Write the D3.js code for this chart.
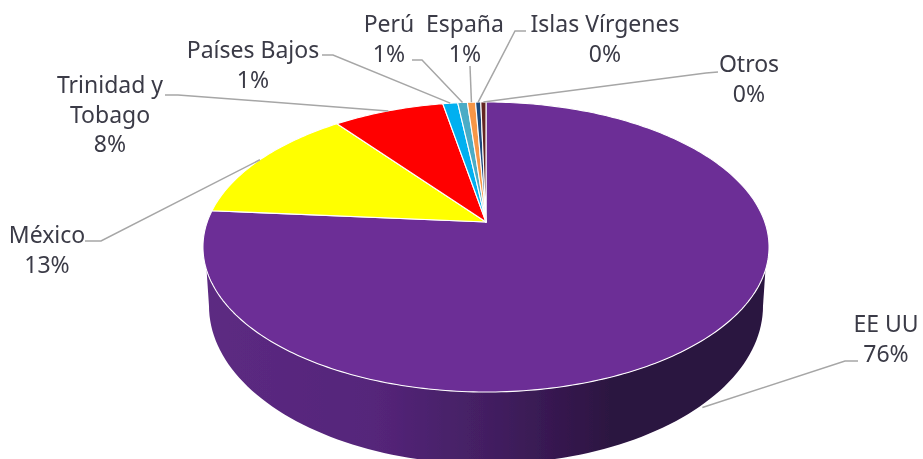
<!DOCTYPE html>
<html><head><meta charset="utf-8">
<script src="https://cdn.jsdelivr.net/npm/d3@7"></script>
<style>html,body{margin:0;padding:0;background:#fff}svg{display:block}text{font-family:"Noto Sans",sans-serif;font-size:23px;fill:#3a3a46;text-anchor:middle}</style>
</head><body><svg id="c" width="923" height="459"></svg>
<script>
const categories = ["EE UU","México","Trinidad y Tobago","Países Bajos","Perú","España","Islas Vírgenes","Otros"];
const values = [76.3,13.3,7.5,1.0,0.65,0.55,0.35,0.35];
const colors = ["#6c2d96","#ffff00","#ff0000","#00b0f0","#4bacc6","#f79646","#1f497d","#632523"];
const labelLines = [["EE UU"],["México"],["Trinidad y","Tobago"],["Países Bajos"],["Perú"],["España"],["Islas Vírgenes"],["Otros"]];

// layout: label centre, first baseline, elbow point, and whether the leader lands on the side wall
const layout = [
 {x:886,y:332,elbow:[[858,361],[845,361]],side:true},
 {x:47,y:243,elbow:[[85,241],[101,241]]},
 {x:110,y:93,elbow:[[165,95],[178,95]]},
 {x:253,y:58,elbow:[[322,55],[333,55]]},
 {x:389,y:32,elbow:[[412,60],[422,60]]},
 {x:465,y:32,elbow:[[470,66]]},
 {x:605,y:32,elbow:[[526,31],[515,31]]},
 {x:749,y:72,elbow:[[718,72],[706,73]]}
];

const W=923,H=459, cx=486, cy=222, A=278.8, B=140.7, k=0.1724, depth=67;
const rim = t => { const u=Math.sin(t), v=-Math.cos(t), d=1-k*v; return [cx+A*u/d, cy+B*v/d]; };

const svg=d3.select("#c");
const pct=d3.format(".0f");
const pie=d3.pie().sort(null).value(d=>d)(values);
const line=d3.line();

// side wall: two ellipses, top rim and base
const topE={cy:247,rx:283,ry:145}, botE={cy:306,rx:277,ry:158};
const a0=Math.asin(23/145);
const sweep=d3.range(0,1.0001,0.01).map(d3.scaleLinear().range([a0,Math.PI-a0]));
const sweepB=d3.range(0,1.0001,0.01).map(d3.scaleLinear().range([0,Math.PI]));
const ell=(e,a)=>[cx+e.rx*Math.cos(a), e.cy+e.ry*Math.sin(a)];
const topPts=sweep.map(a=>ell(topE,a));
const botPts=sweepB.map(a=>ell(botE,a));

const defs=svg.append("defs");
defs.append("filter").attr("id","soft").append("feGaussianBlur").attr("stdDeviation",0.45);
const grad=defs.append("linearGradient").attr("id","side")
  .attr("gradientUnits","userSpaceOnUse").attr("x1",205).attr("x2",767).attr("y1",0).attr("y2",0);
[[0,"#5c2a82"],[0.3,"#55257a"],[0.5,"#431f62"],[0.72,"#2c1341"],[1,"#2a1240"]]
 .forEach(s=>grad.append("stop").attr("offset",s[0]).attr("stop-color",s[1]));

const root=svg.append("g").attr("filter","url(#soft)");
root.append("path").attr("d",line(botPts.concat(topPts.slice().reverse())) + "Z").attr("fill","url(#side)");

// top slices
root.append("g").selectAll("path").data(pie).join("path")
  .attr("d",d=>{
    const n=Math.max(2,Math.ceil((d.endAngle-d.startAngle)*60));
    const pts=d3.range(n+1).map(i=>rim(d.startAngle+(d.endAngle-d.startAngle)*i/n));
    return line([[cx,cy],...pts])+"Z";
  })
  .attr("fill",(d,i)=>colors[i]).attr("stroke","#fff").attr("stroke-width",1.1).attr("stroke-linejoin","round");

// leaders
root.append("g").selectAll("path").data(pie).join("path")
  .attr("d",(d,i)=>{
    const p=rim((d.startAngle+d.endAngle)/2);
    const end=layout[i].side?[p[0],p[1]+depth]:p;
    return line([...layout[i].elbow,end]);
  })
  .attr("fill","none").attr("stroke","#a6a6a6").attr("stroke-width",1.5);

// labels
const lh=29.5;
const g=root.append("g");
pie.forEach((d,i)=>{
  const rows=[...labelLines[i], pct(values[i])+"%"];
  rows.forEach((t,j)=>g.append("text").attr("x",layout[i].x).attr("y",layout[i].y+j*lh).text(t));
});
</script></body></html>
